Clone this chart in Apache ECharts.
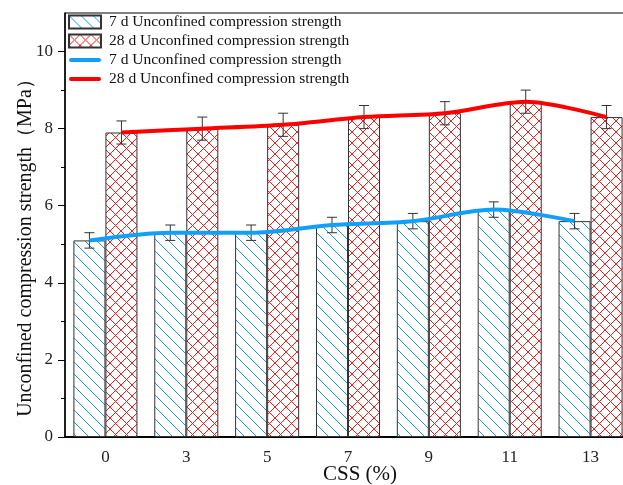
<!DOCTYPE html>
<html>
<head>
<meta charset="utf-8">
<script src="https://cdn.jsdelivr.net/npm/echarts@6/dist/echarts.min.js"></script>
<style>
  html, body { margin: 0; padding: 0; background: #fff; overflow: hidden; }
  /* the figure is cut off on the right, so the chart is drawn a bit wider than the window */
  #chart { width: 640px; height: 485px; }
</style>
</head>
<body>
<div id="chart"></div>
<script>
// data
const categories = ['0', '3', '5', '7', '9', '11', '13'];
const ucs7 = [5.1, 5.3, 5.3, 5.5, 5.6, 5.9, 5.6];
const ucs28 = [7.9, 8.0, 8.1, 8.3, 8.4, 8.7, 8.3];
const err7 = [0.2, 0.2, 0.2, 0.2, 0.2, 0.2, 0.2];
const err28 = [0.3, 0.3, 0.3, 0.3, 0.3, 0.3, 0.3];
const yLabelTicks = [0, 2, 4, 6, 8, 10];
const yMinorTicks = [1, 3, 5, 7, 9];

const name7 = '7 d Unconfined compression strength';
const name28 = '28 d Unconfined compression strength';
// line series need a different name so the legend keeps both entries
const name7l = name7 + ' ';
const name28l = name28 + ' ';

const font = '"Liberation Serif", "Times New Roman", serif';
const barFrac = 0.396;          // each bar as part of the category band
const off = barFrac / 2;        // bar centre offset from category centre
const lineIcon = 'path://M0,0M2,4.5L30,4.5A2,2 0 0 1 30,8.5L2,8.5A2,2 0 0 1 2,4.5ZM32,13';

// hatch tiles
function hatch(color, size, cross) {
    let c = document.createElement('canvas');
    c.width = size; c.height = size;
    let g = c.getContext('2d');
    g.fillStyle = '#fff';
    g.fillRect(0, 0, size, size);
    g.strokeStyle = color;
    g.lineWidth = 1;
    g.beginPath();
    g.moveTo(-1, -1); g.lineTo(size + 1, size + 1);
    if (cross) { g.moveTo(size + 1, -1); g.lineTo(-1, size + 1); }
    g.stroke();
    return c;
}
const blueFill = { image: hatch('#1a9cf0', 12, false), repeat: 'repeat' };
const redFill = { image: hatch('#ff1a1a', 11, true), repeat: 'repeat' };

function errSeries(vals, errs, shift) {
    return {
        type: 'custom',
        xAxisIndex: 1,
        z: 3,
        silent: true,
        data: vals.map((v, i) => [i + shift, v - errs[i], v + errs[i]]),
        encode: { x: 0, y: [1, 2] },
        renderItem: function (params, api) {
            let x = api.value(0);
            let lo = api.coord([x, api.value(1)]);
            let hi = api.coord([x, api.value(2)]);
            let w = 5;
            let st = { stroke: '#333', lineWidth: 1 };
            return {
                type: 'group',
                children: [
                    { type: 'line', shape: { x1: lo[0], y1: lo[1], x2: hi[0], y2: hi[1] }, style: st },
                    { type: 'line', shape: { x1: lo[0] - w, y1: lo[1], x2: lo[0] + w, y2: lo[1] }, style: st },
                    { type: 'line', shape: { x1: hi[0] - w, y1: hi[1], x2: hi[0] + w, y2: hi[1] }, style: st }
                ]
            };
        }
    };
}

let mycharts = echarts.init(document.getElementById('chart'));
mycharts.setOption({
    animation: false,
    backgroundColor: '#fff',
    textStyle: { fontFamily: font },
    grid: {
        left: 65, right: 9, top: 13, bottom: 48,
        outerBoundsMode: 'none',
        show: true, borderColor: '#000', borderWidth: 1
    },
    legend: {
        orient: 'vertical',
        left: 63, top: 9,
        itemWidth: 32, itemHeight: 13, itemGap: 3,
        data: [
            { name: name7, icon: 'rect' },
            { name: name28, icon: 'rect' },
            { name: name7l, icon: lineIcon },
            { name: name28l, icon: lineIcon }
        ],
        textStyle: { fontFamily: font, fontSize: 15.5, color: '#111', padding: [0, 0, 0, 3] }
    },
    xAxis: [
        {
            type: 'category',
            data: categories,
            name: 'CSS (%)',
            nameLocation: 'middle',
            nameMoveOverlap: false,
            nameGap: 27,
            nameTextStyle: { fontFamily: font, fontSize: 21, color: '#111', padding: [0, 0, 0, 24] },
            axisLine: { lineStyle: { color: '#000', width: 2 } },
            axisTick: { inside: true, length: 4, lineStyle: { color: '#000' } },
            axisLabel: { fontFamily: font, fontSize: 17, color: '#222', margin: 12 }
        },
        { type: 'value', min: -0.5, max: 6.5, show: false }
    ],
    yAxis: [
        {
            type: 'value',
            min: 0, max: 11, interval: 1,
            name: 'Unconfined compression strength（MPa）',
            nameLocation: 'middle',
            nameMoveOverlap: false,
            nameGap: 29,
            nameTextStyle: { fontFamily: font, fontSize: 20, color: '#111', padding: [0, 0, 0, -36] },
            axisLine: { show: true, onZero: false, lineStyle: { color: '#000', width: 1.5 } },
            axisTick: { show: true, length: 7, customValues: yLabelTicks, lineStyle: { color: '#000' } },
            axisLabel: { fontFamily: font, fontSize: 17, color: '#222', margin: 12, customValues: yLabelTicks },
            splitLine: { show: false }
        },
        {
            type: 'value',
            min: 0, max: 11, interval: 1,
            position: 'left',
            axisLine: { show: false, onZero: false },
            axisTick: { show: true, length: 4, customValues: yMinorTicks, lineStyle: { color: '#000' } },
            axisLabel: { show: false },
            splitLine: { show: false }
        }
    ],
    series: [
        {
            name: name7,
            type: 'bar',
            data: ucs7,
            barWidth: (barFrac * 100) + '%',
            barGap: '0%',
            z: 2,
            itemStyle: { color: blueFill, borderColor: '#333', borderWidth: 1 }
        },
        {
            name: name28,
            type: 'bar',
            data: ucs28,
            barWidth: (barFrac * 100) + '%',
            barGap: '0%',
            z: 2,
            itemStyle: { color: redFill, borderColor: '#333', borderWidth: 1 }
        },
        errSeries(ucs7, err7, -off),
        errSeries(ucs28, err28, off),
        {
            name: name7l,
            type: 'line',
            xAxisIndex: 1,
            data: ucs7.map((v, i) => [i - off, v]),
            smooth: 0.3,
            symbol: 'none',
            z: 4,
            lineStyle: { color: '#10a0f8', width: 4 },
            itemStyle: { color: '#10a0f8' }
        },
        {
            name: name28l,
            type: 'line',
            xAxisIndex: 1,
            data: ucs28.map((v, i) => [i + off, v]),
            smooth: 0.3,
            symbol: 'none',
            z: 4,
            lineStyle: { color: '#ff0000', width: 4 },
            itemStyle: { color: '#ff0000' }
        }
    ]
});
</script>
</body>
</html>
